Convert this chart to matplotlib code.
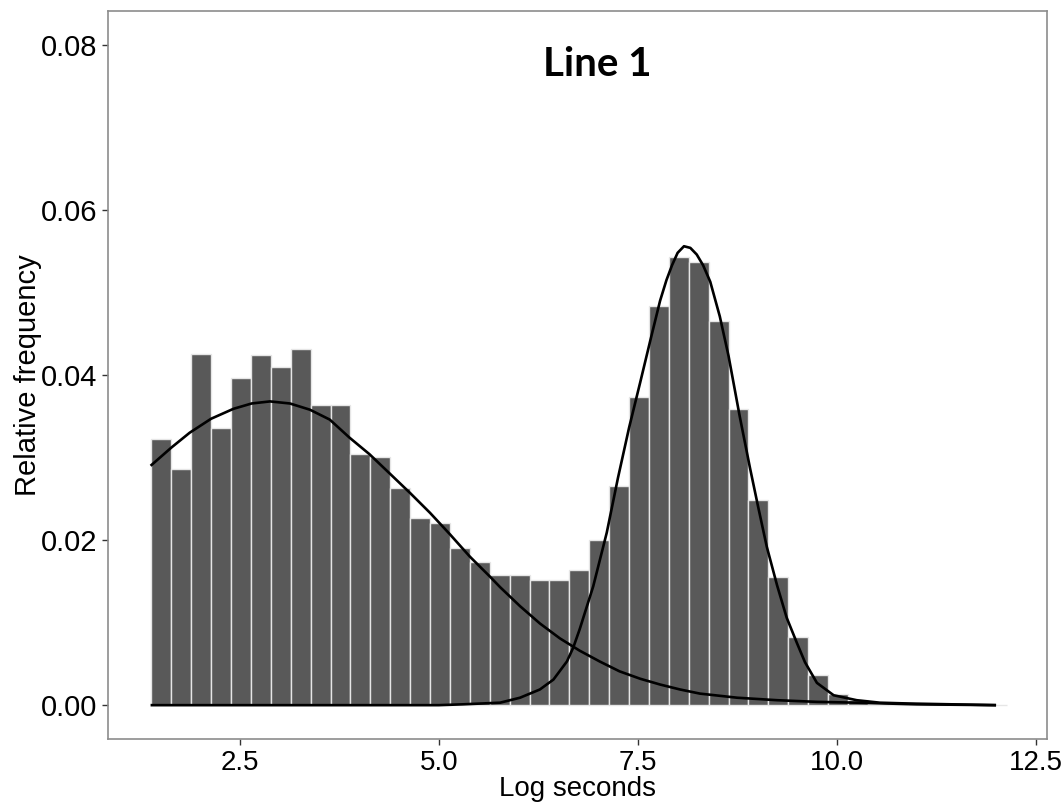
import numpy as np
import matplotlib
matplotlib.use("Agg")
import matplotlib.pyplot as plt

# ---- data ----
bin_start = 1.39
bin_width = 0.25
bar_heights = [0.0322, 0.0286, 0.0426, 0.0336, 0.0396, 0.0424, 0.0410, 0.0432,
               0.0364, 0.0364, 0.0304, 0.0301, 0.0263, 0.0227, 0.0221, 0.0190,
               0.0174, 0.0158, 0.0158, 0.0152, 0.0152, 0.0164, 0.0200, 0.0265,
               0.0373, 0.0483, 0.0543, 0.0537, 0.0465, 0.0359, 0.0249, 0.0155,
               0.0082, 0.0036, 0.0014, 0.0006, 0.0002, 0.0, 0.0, 0.0, 0.0, 0.0, 0.0]

curve1_x = [1.38, 1.64, 1.87, 2.14, 2.42, 2.65, 2.88, 3.13, 3.38, 3.63, 3.88, 4.13,
            4.38, 4.64, 4.89, 5.14, 5.39, 5.64, 5.77, 6.02, 6.27, 6.52, 6.77, 7.02,
            7.27, 7.53, 7.78, 8.03, 8.28, 8.75, 9.25, 9.75, 10.25, 11.0, 12.0]
curve1_y = [0.0290, 0.0312, 0.0330, 0.0347, 0.0359, 0.03655, 0.0368, 0.03655, 0.0358,
            0.0346, 0.0324, 0.0304, 0.0281, 0.0257, 0.0233, 0.0207, 0.0180, 0.0156,
            0.0143, 0.0120, 0.0099, 0.0081, 0.0066, 0.0053, 0.0041, 0.0032, 0.0025,
            0.0019, 0.0014, 0.0009, 0.0006, 0.0004, 0.0003, 0.0001, 0.0]

curve2_x = [1.38, 5.0, 5.3, 5.77, 6.02, 6.27, 6.44, 6.61, 6.69, 6.77, 6.94, 7.11,
            7.25, 7.39, 7.53, 7.66, 7.78, 7.86, 7.93, 8.00, 8.08, 8.16, 8.24, 8.32,
            8.41, 8.53, 8.64, 8.78, 8.91, 9.01, 9.12, 9.25, 9.37, 9.50, 9.60, 9.75,
            9.96, 10.25, 10.54, 10.9, 12.0]
curve2_y = [0.0, 0.0, 0.0001, 0.0003, 0.0009, 0.0019, 0.0031, 0.0053, 0.0070, 0.0092,
            0.0144, 0.0209, 0.0275, 0.0336, 0.0391, 0.0443, 0.0490, 0.0515, 0.0533,
            0.0548, 0.0556, 0.0554, 0.0546, 0.0533, 0.0513, 0.0471, 0.0423, 0.0350,
            0.0287, 0.0241, 0.0192, 0.0145, 0.0106, 0.0075, 0.0052, 0.0027, 0.0012,
            0.0006, 0.0003, 0.0002, 0.0]

x_ticks = [2.5, 5.0, 7.5, 10.0, 12.5]
x_tick_labels = ["2.5", "5.0", "7.5", "10.0", "12.5"]
y_ticks = [0.00, 0.02, 0.04, 0.06, 0.08]
y_tick_labels = ["0.00", "0.02", "0.04", "0.06", "0.08"]
title_text = "Line 1"
x_label = "Log seconds"
y_label = "Relative frequency"

# ---- figure ----
fig = plt.figure(figsize=(10.61, 8.08), dpi=100)
ax = fig.add_axes([108 / 1061, 1 - 739 / 808, (1047 - 108) / 1061, (739 - 11) / 808])

lefts = bin_start + bin_width * np.arange(len(bar_heights))
ax.bar(lefts, bar_heights, width=bin_width, align="edge", color="#595959",
       edgecolor="#e6e6e6", linewidth=1.0, zorder=2)

ax.plot(curve1_x, curve1_y, color="black", lw=1.9, zorder=3,
        solid_joinstyle="round", solid_capstyle="butt")
ax.plot(curve2_x, curve2_y, color="black", lw=1.9, zorder=3,
        solid_joinstyle="round", solid_capstyle="butt")

ax.set_xlim(0.845, 12.64)
ax.set_ylim(-0.0041, 0.0841)

fam = ["Liberation Sans", "DejaVu Sans"]
ax.set_xticks(x_ticks)
ax.set_xticklabels(x_tick_labels, family=fam, size=20)
ax.set_yticks(y_ticks)
ax.set_yticklabels(y_tick_labels, family=fam, size=21)
ax.tick_params(axis="both", length=4, width=1, color="#333333", labelcolor="black")
ax.tick_params(axis="x", pad=4)
ax.tick_params(axis="y", pad=4)

for s in ax.spines.values():
    s.set_color("#8c8c8c")
    s.set_linewidth(1.2)

ax.set_xlabel(x_label, family=fam, size=20, labelpad=0)
ax.set_ylabel(y_label, family=fam, size=21, labelpad=-1)

ax.text(6.99, 0.0762, title_text, ha="center", va="baseline",
        family=["Lato", "DejaVu Sans"], fontweight="bold", size=29)

fig.savefig("out.png", dpi=100)
